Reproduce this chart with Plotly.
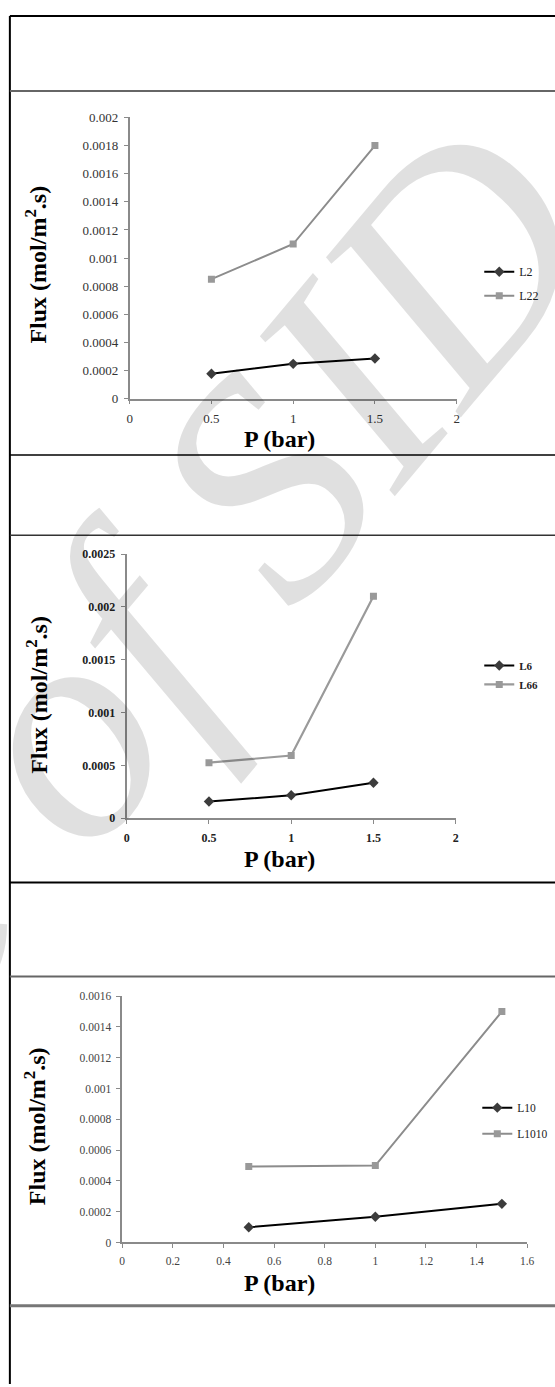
import plotly.graph_objects as go

W, H = 555, 1387

# ---------------- data ----------------
P = [0.5, 1, 1.5]
L2 = [0.000178, 0.000248, 0.000286]
L22 = [0.00085, 0.0011, 0.0018]
L6 = [0.000157, 0.000216, 0.000335]
L66 = [0.000525, 0.000593, 0.0021]
L10 = [0.000099, 0.000167, 0.000251]
L1010 = [0.000493, 0.0005, 0.0015]

X12_TICKS = [0, 0.5, 1, 1.5, 2]
X12_LABELS = ["0", "0.5", "1", "1.5", "2"]
X3_TICKS = [0, 0.2, 0.4, 0.6, 0.8, 1, 1.2, 1.4, 1.6]
X3_LABELS = ["0", "0.2", "0.4", "0.6", "0.8", "1", "1.2", "1.4", "1.6"]
Y1_TICKS = [0, 0.0002, 0.0004, 0.0006, 0.0008, 0.001, 0.0012, 0.0014, 0.0016, 0.0018, 0.002]
Y1_LABELS = ["0", "0.0002", "0.0004", "0.0006", "0.0008", "0.001", "0.0012", "0.0014", "0.0016", "0.0018", "0.002"]
Y2_TICKS = [0, 0.0005, 0.001, 0.0015, 0.002, 0.0025]
Y2_LABELS = ["0", "0.0005", "0.001", "0.0015", "0.002", "0.0025"]
Y3_TICKS = [0, 0.0002, 0.0004, 0.0006, 0.0008, 0.001, 0.0012, 0.0014, 0.0016]
Y3_LABELS = ["0", "0.0002", "0.0004", "0.0006", "0.0008", "0.001", "0.0012", "0.0014", "0.0016"]

X_TITLE = "P (bar)"
Y_TITLE = "Flux (mol/m<sup>2</sup>.s)"
WATERMARK = "Archive of SID"


def px(x):
    return x / W


def py(y):
    return 1 - y / H


SERIF = "Liberation Serif, Times New Roman, serif"

fig = go.Figure()

BLACK_LINE = dict(color="black", width=2)
GRAY_LINE = dict(color="#8c8c8c", width=2)
DIA = dict(symbol="diamond", size=8, color="#3c3c3c")
SQ = dict(symbol="square", size=7, color="#999999")

# chart 1
fig.add_trace(go.Scatter(x=P, y=L2, name="L2", mode="lines+markers", line=BLACK_LINE, marker=DIA,
                         xaxis="x", yaxis="y", legend="legend", legendgroup="a"))
fig.add_trace(go.Scatter(x=P, y=L22, name="L22", mode="lines+markers", line=GRAY_LINE, marker=SQ,
                         xaxis="x", yaxis="y", legend="legend", legendgroup="b"))
# chart 2
fig.add_trace(go.Scatter(x=P, y=L6, name="L6", mode="lines+markers", line=BLACK_LINE, marker=DIA,
                         xaxis="x2", yaxis="y2", legend="legend2", legendgroup="c"))
fig.add_trace(go.Scatter(x=P, y=L66, name="L66", mode="lines+markers", line=dict(color="#9a9a9a", width=2.2),
                         marker=SQ, xaxis="x2", yaxis="y2", legend="legend2", legendgroup="d"))
# chart 3
fig.add_trace(go.Scatter(x=P, y=L10, name="L10", mode="lines+markers", line=BLACK_LINE, marker=DIA,
                         xaxis="x3", yaxis="y3", legend="legend3", legendgroup="e"))
fig.add_trace(go.Scatter(x=P, y=L1010, name="L1010", mode="lines+markers", line=GRAY_LINE, marker=SQ,
                         xaxis="x3", yaxis="y3", legend="legend3", legendgroup="f"))


def axis_style(size, color, bold=False, lw=1.5):
    return dict(showline=True, linecolor="#8a8a8a", linewidth=lw, ticks="outside", ticklen=4,
                tickcolor="#8a8a8a", tickwidth=1, showgrid=False, zeroline=False, fixedrange=True,
                tickfont=dict(family=SERIF, size=size, color=color, weight="bold" if bold else "normal"),
                ticklabelstandoff=3)


fig.update_layout(
    width=W, height=H,
    margin=dict(l=0, r=0, t=0, b=0),
    paper_bgcolor="white", plot_bgcolor="rgba(0,0,0,0)",
    xaxis=dict(domain=[px(129), px(462)], range=[0, 2], anchor="y", tickmode="array",
               tickvals=X12_TICKS, ticktext=X12_LABELS, **axis_style(13, "#333")),
    yaxis=dict(domain=[py(396), py(111.7)], range=[0, 0.002], anchor="x", tickmode="array",
               tickvals=Y1_TICKS, ticktext=Y1_LABELS, **axis_style(13, "#333")),
    xaxis2=dict(domain=[px(126), px(461)], range=[0, 2], anchor="y2", tickmode="array",
                tickvals=X12_TICKS, ticktext=X12_LABELS, **axis_style(12, "#222", True, 2)),
    yaxis2=dict(domain=[py(820), py(553)], range=[0, 0.0025], anchor="x2", tickmode="array",
                tickvals=Y2_TICKS, ticktext=Y2_LABELS, **axis_style(12, "#222", True, 2)),
    xaxis3=dict(domain=[px(121.4), px(533.8)], range=[0, 1.6], anchor="y3", tickmode="array",
                tickvals=X3_TICKS, ticktext=X3_LABELS, **axis_style(11.5, "#444")),
    yaxis3=dict(domain=[py(1249), py(1000)], range=[0, 0.0016], anchor="x3", tickmode="array",
                tickvals=Y3_TICKS, ticktext=Y3_LABELS, **axis_style(11.5, "#444")),
    legend=dict(x=px(485), y=py(253), xanchor="left", yanchor="top", bgcolor="rgba(0,0,0,0)",
                font=dict(family=SERIF, size=12, color="#222"), tracegroupgap=5, itemwidth=30),
    legend2=dict(x=px(485), y=py(651), xanchor="left", yanchor="top", bgcolor="rgba(0,0,0,0)",
                 font=dict(family=SERIF, size=11, color="#222", weight="bold"), tracegroupgap=0, itemwidth=30),
    legend3=dict(x=px(483), y=py(1098), xanchor="left", yanchor="top", bgcolor="rgba(0,0,0,0)",
                 font=dict(family=SERIF, size=11.5, color="#222"), tracegroupgap=7, itemwidth=30),
    showlegend=True,
)

annotations = [
    dict(text="<i>" + WATERMARK + "</i>", x=px(-80), y=py(895), xref="paper", yref="paper",
         showarrow=False, textangle=-50, xanchor="center", yanchor="middle",
         font=dict(family=SERIF, size=315, color="rgba(0,0,0,0.12)")),
]
for (tx, ty, yx, yy) in [(282, 437, 34, 260), (282, 861, 35, 695), (282, 1290, 32, 1131)]:
    annotations.append(dict(text="<b>" + X_TITLE + "</b>", x=px(tx), y=py(ty), xref="paper", yref="paper",
                            showarrow=False, xanchor="center", yanchor="middle",
                            font=dict(family=SERIF, size=24, color="black")))
    annotations.append(dict(text="<b>" + Y_TITLE + "</b>", x=px(yx), y=py(yy), xref="paper", yref="paper",
                            showarrow=False, xanchor="center", yanchor="middle", textangle=-90,
                            font=dict(family=SERIF, size=24, color="black")))
fig.update_layout(annotations=annotations)

shapes = []
# left border
shapes.append(dict(type="line", xref="paper", yref="paper", x0=px(7), x1=px(7), y0=py(9), y1=py(H + 5),
                   line=dict(color="black", width=2), layer="above"))
for yline, col, wd in [(9, "black", 2), (85, "#666", 2), (453, "black", 1.5), (534, "#333", 1.5),
                       (885, "black", 2), (980, "#666", 2), (1313, "#777", 3)]:
    shapes.append(dict(type="line", xref="paper", yref="paper", x0=px(7), x1=1.02, y0=py(yline), y1=py(yline),
                       line=dict(color=col, width=wd), layer="above"))
fig.update_layout(shapes=shapes)

fig.write_html("out.html", config={"displayModeBar": False},
               post_script="document.body.style.margin='0';document.body.style.padding='0';")
